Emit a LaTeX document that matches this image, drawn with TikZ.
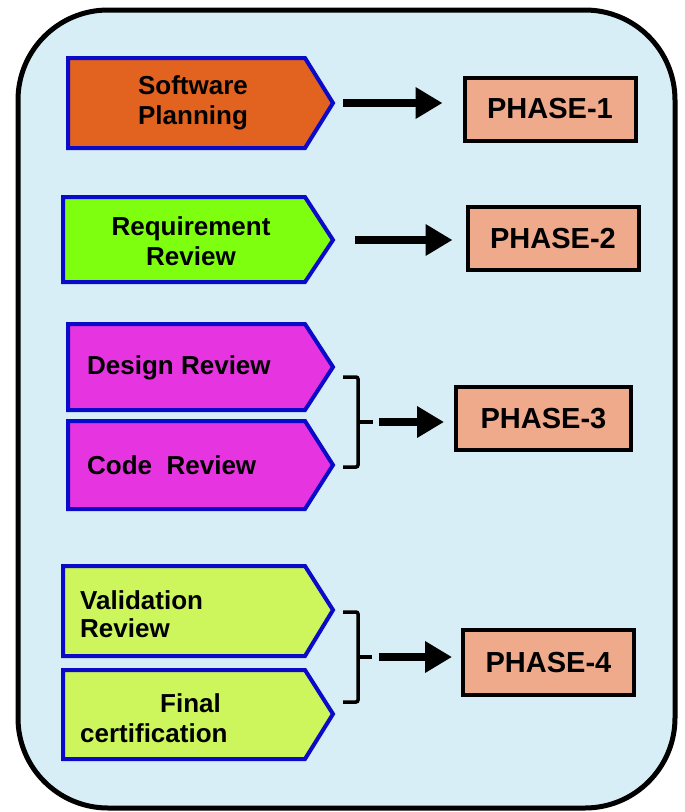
\documentclass[tikz,border=0pt]{standalone}
\usepackage{fontspec}
\setmainfont{Liberation Sans}
\usetikzlibrary{arrows.meta}
\definecolor{orangeF}{HTML}{E2621F}
\definecolor{greenF}{HTML}{7FFF10}
\definecolor{pinkF}{HTML}{E634E0}
\definecolor{limeF}{HTML}{CCF65C}
\definecolor{bluebd}{HTML}{0A0AC8}
\definecolor{salmonF}{HTML}{EFA98B}
\definecolor{bgblue}{HTML}{D7EEF6}
\tikzset{
  chev/.style={draw=bluebd, line width=4pt, line join=miter},
  lbl/.style={font=\bfseries\fontsize{26}{30}\selectfont, inner sep=0pt},
  phasebox/.style={draw=black, fill=salmonF, line width=4pt, minimum width=171pt, minimum height=63pt, inner sep=0pt, font=\bfseries\fontsize{29}{33}\selectfont},
  bigarrow/.style={line width=8pt, -{Triangle[length=27pt,width=30pt]}},
  brace/.style={line width=3.5pt, rounded corners=2pt}
}
\begin{document}
\begin{tikzpicture}[x=1pt,y=-1pt]
\useasboundingbox (0,0) rectangle (685,812);
% outer frame
\draw[line width=5pt, fill=bgblue, rounded corners=90pt] (18,10) rectangle (675,808);

% chevrons
\draw[chev, fill=orangeF] (68,58) -- (305,58) -- (333,103) -- (305,148) -- (68,148) -- cycle;
\coordinate (sp) at (333,103);
\node[lbl, align=center] (sptxt) at (193,103) {Software\\Planning};

\draw[chev, fill=greenF] (63,197) -- (305,197) -- (333,240) -- (305,282) -- (63,282) -- cycle;
\coordinate (rr) at (333,240);
\node[lbl, align=center] (rrtxt) at (191,241) {Requirement\\Review};

\draw[chev, fill=pinkF] (68,324) -- (305,324) -- (333,367) -- (305,410) -- (68,410) -- cycle;
\node[lbl, anchor=west] (drtxt) at (87,368) {Design Review};

\draw[chev, fill=pinkF] (68,421) -- (305,421) -- (333,465) -- (305,509) -- (68,509) -- cycle;
\node[lbl, anchor=west] (crtxt) at (87,465) {Code\ \ Review};

\draw[chev, fill=limeF] (63,566) -- (305,566) -- (333,610) -- (305,656) -- (63,656) -- cycle;
\node[lbl, align=left, anchor=west] (vrtxt) at (80,614) {Validation\\[-2pt]Review};

\draw[chev, fill=limeF] (63,670) -- (305,670) -- (333,714) -- (305,759) -- (63,759) -- cycle;
\node[lbl, align=left, anchor=west] (fctxt) at (80,718) {\hspace*{80pt}Final\\certification};

% phase boxes
\node[phasebox] (ph1) at (550,109) {PHASE-1};
\node[phasebox] (ph2) at (553,238.5) {PHASE-2};
\node[phasebox, minimum width=175pt] (ph3) at (543.5,418.5) {PHASE-3};
\node[phasebox, minimum height=65pt] (ph4) at (548.5,662.5) {PHASE-4};

% braces
\draw[brace] (343,377) -- (358,377) -- (358,467) -- (343,467);
\draw[line width=3.5pt] (358,422) -- (373,422);
\coordinate (b3) at (373,422);
\draw[brace] (343,612) -- (358,612) -- (358,702) -- (343,702);
\draw[line width=3.5pt] (358,657) -- (372,657);
\coordinate (b4) at (372,657);

% arrows
\draw[bigarrow] ([xshift=10pt]sp) -- ([xshift=-20pt]sp -| ph1.west);
\draw[bigarrow] ([xshift=22pt]rr) -- ([xshift=-13pt]rr -| ph2.west);
\draw[bigarrow] ([xshift=6pt]b3) -- ([xshift=-10pt]b3 -| ph3.west);
\draw[bigarrow] ([xshift=7pt]b4) -- ([xshift=-9pt]b4 -| ph4.west);
\end{tikzpicture}
\end{document}
